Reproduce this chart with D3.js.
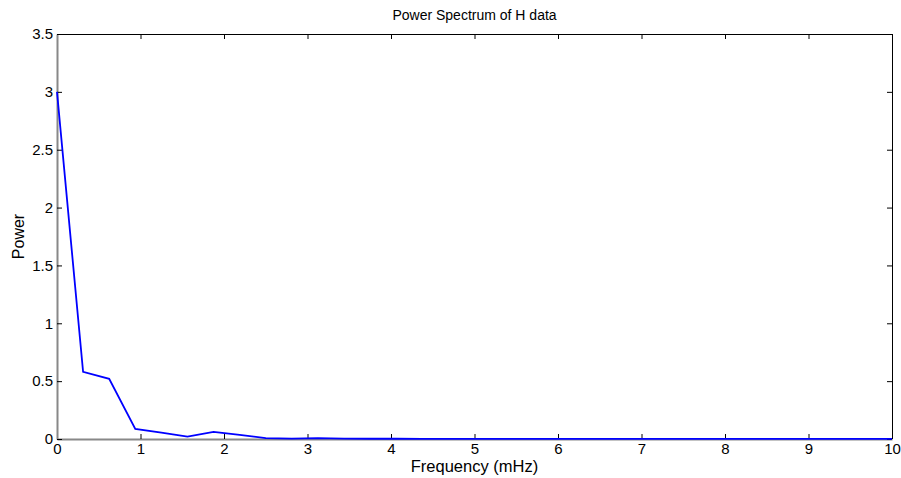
<!DOCTYPE html>
<html><head><meta charset="utf-8">
<script src="https://cdn.jsdelivr.net/npm/d3@7/dist/d3.min.js"></script>
<style>
body{margin:0;background:#fff;}
text{font-family:"Liberation Sans",Arial,sans-serif;}
</style></head>
<body><svg id="c" width="901" height="478"></svg>
<script>
const freq = [0,0.3125,0.625,0.9375,1.25,1.5625,1.875,2.1875,2.5,2.8125,3.125,3.4375,3.75,4.0625,4.375,4.6875,5,5.3125,5.625,5.9375,6.25,6.5625,6.875,7.1875,7.5,7.8125,8.125,8.4375,8.75,9.0625,9.375,9.6875,10];
const power = [3.0,0.58,0.52,0.087,0.055,0.02,0.062,0.036,0.008,0.004,0.007,0.003,0.002,0.002,0.001,0.001,0.001,0.001,0.001,0.001,0.001,0.001,0.001,0.001,0.001,0.001,0.001,0.001,0.001,0.001,0.001,0.001,0.001];
const xTicks = [0,1,2,3,4,5,6,7,8,9,10];
const yTicks = [0,0.5,1,1.5,2,2.5,3,3.5];

const svg = d3.select("#c");
const L=57, R=892, T=34, B=439;
const x = d3.scaleLinear().domain([0,10]).range([L,R]);
const y = d3.scaleLinear().domain([0,3.5]).range([B,T]);

svg.append("line").attr("x1",L).attr("x2",R).attr("y1",T+0.5).attr("y2",T+0.5).attr("stroke","#000");
svg.append("line").attr("x1",R+0.5).attr("x2",R+0.5).attr("y1",T).attr("y2",B).attr("stroke","#000");

const fmt = d => String(d);
const gx = svg.append("g").attr("transform",`translate(0,${B})`)
  .call(d3.axisBottom(x).tickValues(xTicks).tickFormat(fmt).tickSizeInner(-5).tickSizeOuter(0).tickPadding(4));
svg.append("g").attr("transform",`translate(0,${T})`)
  .call(d3.axisTop(x).tickValues(xTicks).tickFormat("").tickSizeInner(-5).tickSizeOuter(0))
  .select(".domain").remove();
const gy = svg.append("g").attr("transform",`translate(${L},0)`)
  .call(d3.axisLeft(y).tickValues(yTicks).tickFormat(fmt).tickSizeInner(-5).tickSizeOuter(0).tickPadding(4));
svg.append("g").attr("transform",`translate(${R},0)`)
  .call(d3.axisRight(y).tickValues(yTicks).tickFormat("").tickSizeInner(-5).tickSizeOuter(0))
  .select(".domain").remove();

svg.selectAll(".tick line").attr("stroke","#000");
gx.select(".domain").attr("stroke","#888").attr("stroke-width",2);
gy.select(".domain").attr("stroke","#888").attr("stroke-width",2);
svg.selectAll(".tick text").attr("font-size",15).attr("fill","#000").attr("font-family","'Liberation Sans',Arial,sans-serif");

const line = d3.line().x((d,i)=>x(freq[i])).y(d=>y(d));
svg.append("path").datum(power).attr("d",line).attr("fill","none").attr("stroke","#0000ff").attr("stroke-width",1.8);

svg.append("text").attr("x",(L+R)/2).attr("y",20).attr("text-anchor","middle").attr("font-size",14).text("Power Spectrum of H data");
svg.append("text").attr("x",(L+R)/2).attr("y",472).attr("text-anchor","middle").attr("font-size",16.5).text("Frequency (mHz)");
svg.append("text").attr("transform",`translate(24,${(T+B)/2}) rotate(-90)`).attr("text-anchor","middle").attr("font-size",16).text("Power");
</script></body></html>
